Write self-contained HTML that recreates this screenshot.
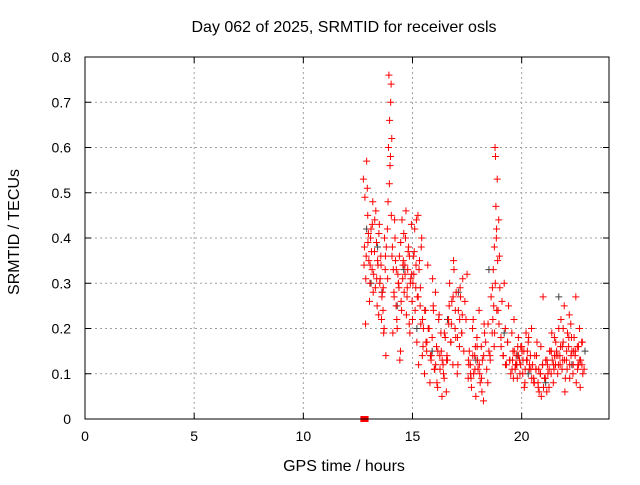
<!DOCTYPE html>
<html><head><meta charset="utf-8"><style>
body{margin:0;background:#fff;font-family:"Liberation Sans",sans-serif}
svg text{font-family:"Liberation Sans",sans-serif;font-size:14px;fill:#000}
svg text.big{font-size:16px}
</style></head><body>
<svg id="chart" width="640" height="480">
<text class="big" x="344" y="32" text-anchor="middle">Day 062 of 2025, SRMTID for receiver osls</text>
<g id="grid"></g>
<g id="gray"></g>
<g id="red"></g>
<rect x="85" y="57" width="524" height="362" fill="none" stroke="#000"/>
<g id="ticks"></g>
<text class="big" x="344" y="471" text-anchor="middle">GPS time / hours</text>
<text class="big" transform="translate(19,232) rotate(-90)" text-anchor="middle">SRMTID / TECUs</text>
</svg>
<script>
const xTicks=[0,5,10,15,20];
const yTicks=[0,0.1,0.2,0.3,0.4,0.5,0.6,0.7,0.8];
const redT=[12.75,12.8,12.85,12.9,12.95,13.0,13.05,13.1,13.15,13.2,12.82,12.88,12.93,12.98,13.03,13.08,13.12,13.18,13.22,13.27,13.3,13.35,13.4,13.45,13.5,13.55,13.6,13.65,13.7,13.75,13.8,13.32,13.38,13.42,13.48,13.52,13.58,13.62,13.68,13.72,13.78,13.85,13.9,13.92,13.95,13.97,14.0,14.02,14.05,13.88,13.94,13.99,14.03,14.08,14.12,14.15,14.2,14.25,14.3,14.35,14.4,14.45,14.1,14.18,14.22,14.28,14.33,14.38,14.42,14.48,14.5,14.55,14.6,14.65,14.7,14.75,14.8,14.85,14.9,14.95,14.52,14.58,14.62,14.68,14.72,14.78,14.82,14.88,14.92,14.98,15.0,15.05,15.1,15.15,15.2,15.25,15.3,15.35,15.4,15.45,15.5,15.02,15.08,15.12,15.18,15.22,15.28,15.32,15.38,15.42,15.48,15.55,15.6,15.65,15.7,15.75,15.8,15.85,15.9,15.95,16.0,16.05,16.1,16.15,16.2,16.25,16.3,16.35,16.4,16.45,15.62,15.72,15.82,15.92,16.02,16.12,16.22,16.32,16.42,16.5,16.55,16.6,16.65,16.7,16.75,16.8,16.85,16.9,16.95,17.0,17.05,17.1,17.15,17.2,17.25,17.3,16.58,16.68,16.78,16.88,16.98,17.08,17.18,17.28,17.35,17.4,17.45,17.5,17.55,17.6,17.65,17.7,17.75,17.8,17.85,17.9,17.95,18.0,18.05,18.1,18.15,18.2,18.25,18.3,17.58,17.68,17.78,17.88,17.98,18.08,18.18,18.28,18.35,18.4,18.45,18.5,18.55,18.6,18.65,18.7,18.72,18.75,18.78,18.8,18.82,18.85,18.88,18.9,18.95,19.0,18.68,18.74,18.79,18.84,18.92,18.98,19.05,19.1,19.15,19.2,19.25,19.3,19.35,19.4,19.45,19.5,19.55,19.6,19.65,19.7,19.75,19.8,19.85,19.9,19.95,20.0,20.05,20.1,20.15,20.2,20.25,20.3,20.35,20.4,20.45,19.62,19.72,19.82,19.92,20.02,20.12,20.22,20.32,20.42,20.5,20.55,20.6,20.65,20.7,20.75,20.8,20.85,20.9,20.95,21.0,21.05,21.1,21.15,21.2,20.58,20.68,20.78,20.88,20.98,21.08,21.18,21.25,21.3,21.35,21.4,21.45,21.5,21.55,21.6,21.65,21.7,21.75,21.8,21.85,21.9,21.95,22.0,22.05,22.1,22.15,22.2,22.25,22.3,22.35,22.4,22.45,22.5,22.55,22.6,22.65,22.7,22.75,22.8,21.28,21.38,21.48,21.58,21.68,21.78,21.88,21.98,22.08,22.18,22.28,22.38,22.48,22.58,22.68,22.78,21.5,21.9,22.2,22.6];
const redV=[0.53,0.38,0.21,0.57,0.45,0.35,0.30,0.42,0.33,0.28,0.49,0.36,0.51,0.41,0.26,0.40,0.37,0.48,0.32,0.44,0.29,0.39,0.35,0.23,0.30,0.36,0.27,0.24,0.20,0.33,0.38,0.46,0.25,0.34,0.43,0.31,0.22,0.28,0.19,0.40,0.14,0.42,0.60,0.76,0.66,0.56,0.70,0.74,0.62,0.48,0.52,0.58,0.45,0.38,0.33,0.28,0.40,0.25,0.20,0.30,0.36,0.15,0.19,0.44,0.35,0.22,0.32,0.29,0.13,0.26,0.24,0.31,0.41,0.34,0.46,0.27,0.37,0.21,0.30,0.43,0.44,0.35,0.28,0.40,0.23,0.33,0.38,0.19,0.31,0.26,0.22,0.36,0.42,0.29,0.17,0.45,0.33,0.25,0.38,0.14,0.20,0.30,0.37,0.24,0.44,0.27,0.12,0.35,0.21,0.40,0.16,0.10,0.24,0.15,0.34,0.20,0.08,0.13,0.18,0.25,0.11,0.28,0.16,0.07,0.22,0.14,0.19,0.05,0.12,0.09,0.17,0.20,0.14,0.31,0.11,0.08,0.23,0.15,0.10,0.18,0.06,0.13,0.22,0.30,0.17,0.26,0.12,0.33,0.20,0.28,0.10,0.24,0.16,0.27,0.19,0.31,0.14,0.25,0.21,0.35,0.18,0.12,0.29,0.23,0.15,0.26,0.22,0.32,0.09,0.15,0.12,0.07,0.20,0.10,0.14,0.05,0.18,0.11,0.24,0.08,0.16,0.13,0.04,0.19,0.12,0.09,0.22,0.16,0.13,0.10,0.06,0.21,0.17,0.11,0.08,0.15,0.14,0.27,0.19,0.33,0.25,0.38,0.60,0.58,0.47,0.42,0.53,0.35,0.44,0.29,0.22,0.16,0.30,0.40,0.24,0.36,0.18,0.26,0.14,0.30,0.20,0.12,0.17,0.25,0.13,0.10,0.19,0.15,0.22,0.11,0.14,0.09,0.18,0.13,0.12,0.16,0.10,0.15,0.08,0.19,0.13,0.17,0.11,0.14,0.20,0.09,0.12,0.16,0.10,0.15,0.07,0.13,0.18,0.11,0.12,0.09,0.14,0.11,0.17,0.08,0.06,0.10,0.05,0.12,0.07,0.09,0.13,0.06,0.10,0.08,0.14,0.11,0.16,0.27,0.09,0.12,0.07,0.15,0.10,0.13,0.08,0.18,0.12,0.15,0.10,0.20,0.14,0.22,0.11,0.17,0.25,0.09,0.13,0.19,0.16,0.12,0.21,0.15,0.10,0.18,0.14,0.08,0.16,0.12,0.20,0.13,0.17,0.10,0.15,0.19,0.11,0.14,0.12,0.16,0.13,0.06,0.11,0.23,0.18,0.15,0.27,0.12,0.07,0.17,0.14,0.20,0.09,0.16,0.13,0.11,0.18,0.15,0.12,0.10,0.14];
const redT2=[12.78,12.86,12.96,13.06,13.16,13.26,13.36,13.46,13.56,13.66,
13.76,13.86,14.06,14.16,14.26,14.36,14.46,14.56,14.66,14.76,
14.86,14.96,15.06,15.16,15.26,15.36,15.46,15.56,15.66,15.76,
15.86,15.96,16.06,16.16,16.26,16.36,16.46,16.56,16.66,16.76,
16.86,16.96,17.06,17.16,17.26,17.56,17.66,17.76,17.86,17.96,
18.06,18.16,18.26,18.46,18.56,18.66,18.76,18.86,18.96,19.06,
19.16,19.26,19.36,19.46,19.56,19.66,19.76,19.86,19.96,20.06,
20.16,20.26,20.36,20.46,20.56,20.66,20.76,20.86,20.96,21.06,
21.16,21.26,21.36,21.46,21.56,21.66,21.76,21.86,21.96,22.06,
22.16,22.26,22.36,22.46,22.56,22.66,22.76,22.86,19.58,19.78];
const redV2=[0.34,0.31,0.39,0.34,0.43,0.37,0.31,0.41,0.34,0.29,
0.36,0.31,0.36,0.27,0.33,0.30,0.39,0.34,0.32,0.29,
0.36,0.32,0.32,0.34,0.27,0.29,0.22,0.24,0.17,0.20,
0.14,0.24,0.12,0.15,0.11,0.13,0.19,0.13,0.21,0.17,
0.27,0.24,0.18,0.22,0.19,0.13,0.10,0.14,0.11,0.16,
0.12,0.09,0.14,0.21,0.13,0.29,0.19,0.24,0.21,0.16,
0.14,0.12,0.17,0.13,0.11,0.15,0.12,0.14,0.16,0.13,
0.11,0.15,0.12,0.09,0.08,0.11,0.07,0.10,0.12,0.09,
0.13,0.11,0.15,0.12,0.17,0.14,0.12,0.16,0.13,0.15,
0.18,0.14,0.12,0.15,0.11,0.13,0.12,0.11,0.13,0.12];
const grayT=[12.9,13.1,13.4,13.6,14.3,14.6,15.2,15.9,16.6,17.1,17.9,18.5,19.2,19.8,20.3,21.1,21.7,22.3,22.9];
const grayV=[0.42,0.30,0.38,0.28,0.25,0.33,0.20,0.15,0.22,0.28,0.13,0.33,0.19,0.14,0.10,0.08,0.27,0.12,0.15];
const sqT=[12.75,12.85];const sqV=[0,0];
const X=h=>85+h*(524/24), Y=v=>419-v*(362/0.8);
const NS="http://www.w3.org/2000/svg";
function mk(tag,attrs,parent){const e=document.createElementNS(NS,tag);for(const k in attrs)e.setAttribute(k,attrs[k]);parent.appendChild(e);return e;}
const grid=document.getElementById('grid'),ticks=document.getElementById('ticks');
xTicks.forEach(t=>{const x=X(t);
 if(t>0){const g=mk('line',{x1:x,x2:x,y1:57,y2:419,stroke:'#a0a0a0','stroke-dasharray':'2,3'},grid);
 
 }
 mk('line',{x1:x,x2:x,y1:419,y2:413,stroke:'#000'},ticks);mk('line',{x1:x,x2:x,y1:57,y2:63,stroke:'#000'},ticks);
 const l=mk('text',{x:x,y:441,'text-anchor':'middle'},ticks);l.textContent=t;
 
 });
yTicks.forEach(t=>{const y=Y(t);
 if(t>0&&t<0.8){const g=mk('line',{x1:85,x2:609,y1:y,y2:y,stroke:'#a0a0a0','stroke-dasharray':'2,3'},grid);
 
 }
 mk('line',{x1:85,x2:91,y1:y,y2:y,stroke:'#000'},ticks);mk('line',{x1:603,x2:609,y1:y,y2:y,stroke:'#000'},ticks);
 const l=mk('text',{x:71,y:y+5,'text-anchor':'end'},ticks);l.textContent=t===0?'0':t.toFixed(1);
 
 });
function plus(g,t,v,col,name){if(v===undefined||t===undefined)return;const x=X(t),y=Y(v);
 const p=mk('path',{d:`M${x-3.5},${y}h7M${x},${y-3.5}v7`,stroke:col,'stroke-width':1,fill:'none'},g);
 
 }
const gg=document.getElementById('gray'),rg=document.getElementById('red');
grayT.forEach((t,i)=>plus(gg,t,grayV[i],'#404040','gray-point'));
redT.forEach((t,i)=>plus(rg,t,redV[i],'#ff0000','red-point'));
redT2.forEach((t,i)=>plus(rg,t,redV2[i],'#ff0000','red-point'));
sqT.forEach((t,i)=>{const r=mk('rect',{x:X(t)-3,y:Y(sqV[i])-3,width:6,height:6,fill:'#ff0000'},rg);
 
 });
</script>
</body></html>
